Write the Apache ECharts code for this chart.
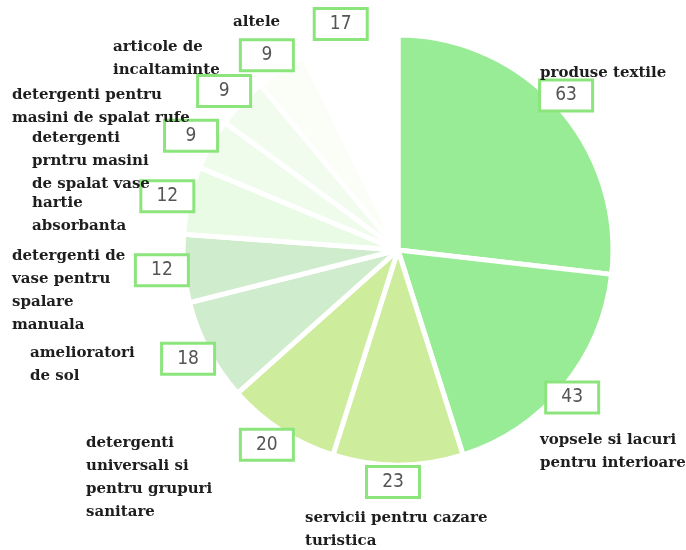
<!DOCTYPE html>
<html>
<head>
<meta charset="utf-8">
<script src="https://cdn.jsdelivr.net/npm/echarts@6/dist/echarts.min.js"></script>
<style>
html, body { margin: 0; padding: 0; background: #fff; }
#main { width: 686px; height: 550px; }
</style>
</head>
<body>
<div id="main"></div>
<script>
const categories = [
    'produse textile',
    'vopsele si lacuri\npentru interioare',
    'servicii pentru cazare\nturistica',
    'detergenti\nuniversali si\npentru grupuri\nsanitare',
    'amelioratori\nde sol',
    'detergenti de\nvase pentru\nspalare\nmanuala',
    'hartie\nabsorbanta',
    'detergenti\nprntru masini\nde spalat vase',
    'detergenti pentru\nmasini de spalat rufe',
    'articole de\nincaltaminte',
    'altele'
];
const values = [63, 43, 23, 20, 18, 12, 12, 9, 9, 9, 17];
const sliceColors = [
    '#98ec96', '#98ec96', '#cdec9c', '#cdec9c', '#cfeccd', '#cfeccd',
    '#e9fbe5', '#effcec', '#f1fcee', '#fafef6', '#ffffff'
];
// where each name block starts (left, top)
const nameAnchors = [
    [540, 62], [540, 429], [305, 507], [86, 432], [30, 342], [12, 245],
    [32, 192], [32, 127], [12, 84], [113, 36], [233, 11]
];

const cx = 398, cy = 250, r = 215, boxR = 232;
const total = values.reduce((a, b) => a + b, 0);
let acc = 0;
const midAngles = values.map(v => {
    let m = (acc + v / 2) / total * 2 * Math.PI;
    acc += v;
    return m;
});

let myChart = echarts.init(document.getElementById('main'));
let option = {
    animation: false,
    series: [
        {
            type: 'pie',
            center: [cx, cy],
            radius: r,
            startAngle: 90,
            clockwise: true,
            avoidLabelOverlap: false,
            silent: true,
            z: 2,
            itemStyle: { borderColor: '#fff', borderWidth: 5 },
            label: {
                show: true,
                position: 'outside',
                formatter: '{c}',
                fontFamily: '"Liberation Sans Narrow", "DejaVu Sans Condensed", sans-serif',
                fontSize: 19,
                color: '#555',
                backgroundColor: '#fff',
                borderColor: '#8be57c',
                borderWidth: 3,
                width: 50,
                height: 28,
                lineHeight: 28,
                align: 'center',
                padding: 0
            },
            labelLine: { show: false },
            labelLayout: function (p) {
                let a = midAngles[p.dataIndex];
                return {
                    x: cx - 5 + boxR * Math.sin(a),
                    y: cy + boxR * -Math.cos(a),
                    align: 'center',
                    verticalAlign: 'middle'
                };
            },
            data: values.map((v, i) => ({
                value: v,
                name: categories[i],
                itemStyle: { color: sliceColors[i] }
            }))
        },
        {
            type: 'pie',
            center: [cx, cy],
            radius: r,
            startAngle: 90,
            clockwise: true,
            avoidLabelOverlap: false,
            silent: true,
            z: 3,
            itemStyle: { color: 'rgba(0,0,0,0)', borderWidth: 0 },
            label: {
                show: true,
                position: 'outside',
                formatter: '{b}',
                fontFamily: '"DejaVu Serif", serif',
                fontWeight: 'bold',
                fontSize: 15,
                lineHeight: 23,
                color: '#1e1e1e'
            },
            labelLine: { show: false },
            labelLayout: function (p) {
                let pos = nameAnchors[p.dataIndex];
                return { x: pos[0], y: pos[1], align: 'left', verticalAlign: 'top' };
            },
            data: values.map((v, i) => ({ value: v, name: categories[i] }))
        }
    ]
};
myChart.setOption(option);
</script>
</body>
</html>
